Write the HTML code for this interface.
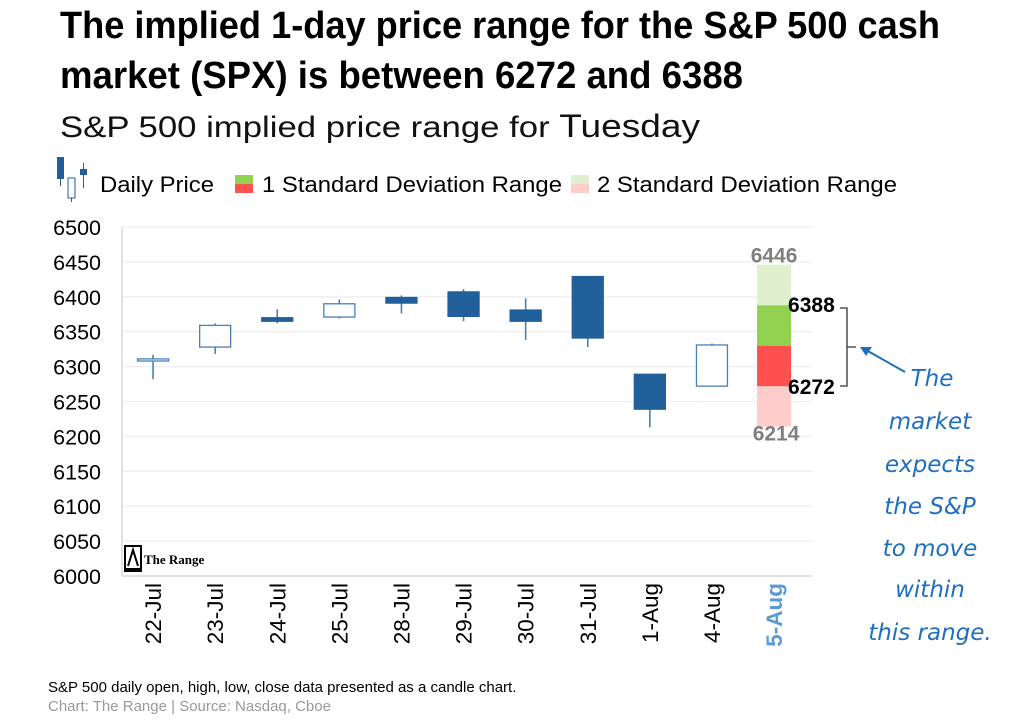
<!DOCTYPE html>
<html><head><meta charset="utf-8"><style>
body{margin:0;background:#fff;}
svg{display:block;font-family:"Liberation Sans",sans-serif;}
</style></head><body>
<svg id="c" width="1029" height="721" viewBox="0 0 1029 721">
<text x="60" y="38" font-family="Liberation Sans Narrow, Liberation Sans, sans-serif" font-weight="bold" font-size="38" textLength="880" lengthAdjust="spacingAndGlyphs">The implied 1-day price range for the S&amp;P 500 cash</text>
<text x="60" y="88" font-family="Liberation Sans Narrow, Liberation Sans, sans-serif" font-weight="bold" font-size="38" textLength="683" lengthAdjust="spacingAndGlyphs">market (SPX) is between 6272 and 6388</text>
<text x="60" y="137" font-size="30" fill="#111" textLength="640" lengthAdjust="spacingAndGlyphs">S&amp;P 500 implied price range for <tspan font-size="32">Tuesday</tspan></text>
<g>
<rect x="57" y="157" width="7" height="22" fill="#215f9a"/><line x1="60.5" y1="179" x2="60.5" y2="186" stroke="#215f9a"/>
<rect x="68" y="178" width="7" height="20" fill="#fff" stroke="#215f9a"/><line x1="71.5" y1="198" x2="71.5" y2="202" stroke="#215f9a"/>
<rect x="80" y="169" width="7" height="6" fill="#215f9a"/><line x1="83.5" y1="163" x2="83.5" y2="188" stroke="#215f9a"/>
<text x="100" y="192" font-size="22" textLength="114" lengthAdjust="spacingAndGlyphs">Daily Price</text>
<rect x="235" y="175" width="18" height="9" fill="#92d050"/><rect x="235" y="184" width="18" height="9" fill="#ff5050"/>
<text x="262" y="192" font-size="22" textLength="300" lengthAdjust="spacingAndGlyphs">1 Standard Deviation Range</text>
<rect x="571" y="175" width="18" height="9" fill="#dff0cf"/><rect x="571" y="184" width="18" height="9" fill="#ffcccc"/>
<text x="597" y="192" font-size="22" textLength="300" lengthAdjust="spacingAndGlyphs">2 Standard Deviation Range</text>
</g>
<g id="plot"></g>
<g>
<rect x="124" y="545" width="18" height="27" fill="#000"/><rect x="126" y="547" width="14" height="21" fill="#fff"/>
<path d="M128 566 L133 550 L138 566" stroke="#000" stroke-width="2" fill="none"/>
<text x="144" y="564" font-family="Liberation Serif,serif" font-weight="bold" font-size="13">The Range</text>
</g>
<g stroke="#333" fill="none" stroke-width="1.3">
<path d="M840 308 H847 V386 H840 M847 347 H856"/>
</g>
<g>
<line x1="905" y1="372" x2="866" y2="350" stroke="#1f6fc0" stroke-width="2"/>
<path d="M860 347 L872 347 L866 356 Z" fill="#1f6fc0"/>
</g>
<g font-family="DejaVu Sans, sans-serif" font-style="italic" font-size="23" fill="#1f6fc0" text-anchor="middle">
<text x="932" y="386">The</text><text x="930" y="429">market</text><text x="930" y="472">expects</text>
<text x="930" y="514">the S&amp;P</text><text x="930" y="556">to move</text><text x="930" y="597">within</text><text x="930" y="640">this range.</text>
</g>
<text x="48" y="692" font-size="15">S&amp;P 500 daily open, high, low, close data presented as a candle chart.</text>
<text x="48" y="711" font-size="15" fill="#999">Chart: The Range | Source: Nasdaq, Cboe</text>
</svg>
<script>
const categories=["22-Jul","23-Jul","24-Jul","25-Jul","28-Jul","29-Jul","30-Jul","31-Jul","1-Aug","4-Aug","5-Aug"];
const opens=[6308,6328,6370,6371,6399,6407,6381,6429,6289,6272];
const highs=[6317,6362,6382,6396,6402,6411,6398,6429,6289,6333];
const lows=[6282,6318,6362,6369,6376,6365,6338,6328,6213,6272];
const closes=[6311,6359,6365,6390,6391,6372,6365,6341,6239,6331];
const rangeLevels=[6214,6272,6330,6388,6446];
const yTicks=[6000,6050,6100,6150,6200,6250,6300,6350,6400,6450,6500];
const NS="http://www.w3.org/2000/svg";
const g=document.getElementById('plot');
const X0=122,BW=62.1,Y0=576,Y1=227,VMIN=6000,VMAX=6500;
const y=v=>Y0-(v-VMIN)/(VMAX-VMIN)*(Y0-Y1);
const x=i=>X0+BW*(i+0.5);
function mk(t,a){const e=document.createElementNS(NS,t);for(const k in a)e.setAttribute(k,a[k]);g.appendChild(e);return e;}
yTicks.forEach(v=>{
 const l=mk('line',{x1:X0,x2:812,y1:y(v),y2:y(v),stroke:v===VMIN?'#d0d0d0':'#eeeeee','stroke-width':1.3});
 
 
 const t=mk('text',{x:101,y:y(v)+8,'text-anchor':'end','font-size':21.5});
 t.textContent=v;
 
 
});
const ax=mk('line',{x1:X0,x2:X0,y1:Y1,y2:Y0,stroke:'#e2e2e2','stroke-width':2});


const ri=categories.length-1;
const rcols=['#ffcccc','#ff5050','#92d050','#dff0cf'];
for(let k=0;k<4;k++){
 const r=mk('rect',{x:x(ri)-17,width:34,y:y(rangeLevels[k+1]),height:y(rangeLevels[k])-y(rangeLevels[k+1]),fill:rcols[k]});
 
 
}
const rl=[[rangeLevels[4],x(ri),y(rangeLevels[4])-2,'middle','#7f7f7f'],[rangeLevels[3],x(ri)+14,y(rangeLevels[3])+7,'start','#000'],[rangeLevels[1],x(ri)+14,y(rangeLevels[1])+8,'start','#000'],[rangeLevels[0],x(ri)+2,y(rangeLevels[0])+14,'middle','#7f7f7f']];
rl.forEach(d=>{
 const t=mk('text',{x:d[1],y:d[2],'text-anchor':d[3],fill:d[4],'font-size':21,'font-weight':'bold'});
 t.textContent=d[0];
 
 
});
opens.forEach((o,i)=>{
 const c=closes[i],up=c>=o,cx=x(i);
 const w=mk('line',{x1:cx,x2:cx,y1:y(highs[i]),y2:y(lows[i]),stroke:'#4a7fb5','stroke-width':1.6});
 
 
 const top=Math.max(o,c),bot=Math.min(o,c);
 const b=mk('rect',{x:cx-15.5,width:31,y:y(top),height:Math.max(y(bot)-y(top),2),fill:up?'#fff':'#215f9a',stroke:up?'#4a7fb5':'#215f9a','stroke-width':1.3});
 
 
});
categories.forEach((c,i)=>{
 const last=i===categories.length-1;
 const t=mk('text',{transform:`translate(${x(i)+8},583) rotate(-90)`,'text-anchor':'end','font-size':22.5,fill:last?'#5b9bd5':'#000','font-weight':last?'bold':'normal'});
 t.textContent=c;
 
 
});
</script>
</body></html>
